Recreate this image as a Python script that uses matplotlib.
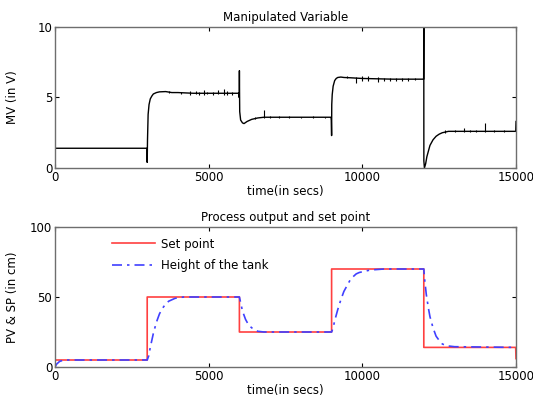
import matplotlib
matplotlib.use("Agg")
import matplotlib.pyplot as plt

plt.rcParams['font.family'] = ['DejaVu Sans']

# Manipulated variable (V): main trace
mv_t = [0, 2995, 3000, 3010, 3030, 3060, 3100, 3150, 3200, 3300, 3400, 3600, 3800, 4000,
        4500, 5990, 5995,
        6000, 6005, 6010, 6040, 6100, 6150, 6250, 6400, 6600, 6800, 7000, 7500,
        8000, 8500, 8980, 8990, 9000, 9005, 9020, 9050, 9100, 9150, 9200, 9300,
        9400, 9600, 10000, 11000, 11980, 11995, 12000,
        12002, 12020, 12060, 12100, 12150, 12200, 12300, 12400, 12500, 12600, 12800, 13000,
        13500, 14990, 15000]
mv_v = [1.4, 1.4, 0.4, 2.0, 3.8, 4.5, 4.9, 5.1, 5.25, 5.35, 5.4, 5.42, 5.35, 5.35,
        5.3, 5.3, 5.0,
        6.9, 5.3, 4.0, 3.4, 3.2, 3.15, 3.3, 3.45, 3.55, 3.6, 3.6, 3.6,
        3.6, 3.6, 3.6, 3.4, 2.3, 4.5, 5.2, 5.8, 6.2, 6.35, 6.42, 6.45,
        6.42, 6.4, 6.35, 6.3, 6.3, 6.3, 10.0,
        0.5, 0.0, 0.3, 0.8, 1.2, 1.6, 2.0, 2.25, 2.4, 2.5, 2.6, 2.6,
        2.6, 2.6, 3.3]

# Manipulated variable: small noise spikes (time, low, high)
spk_t = [3700, 4100, 4400, 4600, 4700, 4850, 4950, 5150, 5300, 5500, 5600, 5750,
         6500, 6800, 7000, 7300, 7600, 8000, 8400, 8800,
         9500, 9800, 10000, 10200, 10500, 10700, 10900, 11100, 11300, 11500, 11700,
         12700, 13000, 13300, 13500, 13700, 14000, 14300, 14600]
spk_lo = [5.3, 5.25, 5.2, 5.25, 5.15, 5.2, 5.25, 5.2, 5.25, 5.2, 5.2, 5.2,
          3.5, 3.55, 3.55, 3.55, 3.55, 3.55, 3.55, 3.55,
          6.35, 6.0, 6.2, 6.2, 6.1, 6.2, 6.2, 6.2, 6.2, 6.2, 6.25,
          2.5, 2.55, 2.55, 2.55, 2.55, 2.55, 2.55, 2.55]
spk_hi = [5.45, 5.4, 5.45, 5.45, 5.4, 5.55, 5.4, 5.4, 5.5, 5.6, 5.45, 5.4,
          3.65, 4.1, 3.7, 3.7, 3.7, 3.65, 3.7, 3.65,
          6.5, 6.45, 6.5, 6.5, 6.45, 6.4, 6.4, 6.4, 6.4, 6.4, 6.4,
          2.7, 2.7, 2.85, 2.7, 2.7, 3.2, 2.7, 2.7]

# Set point (cm)
sp_t = [0, 3000, 3000, 6000, 6000, 9000, 9000, 12000, 12000, 14990, 15000]
sp_v = [5, 5, 50, 50, 25, 25, 70, 70, 14, 14, 6]

# Height of the tank (cm)
pv_t = [0, 50, 150, 300, 3000, 3050, 3100, 3200, 3300, 3400, 3500, 3600, 3700, 3800,
        3900, 4000, 4200, 4500, 6000, 6050, 6100, 6200, 6300, 6400, 6500, 6600, 6800,
        7000, 9000, 9050, 9100, 9200, 9300, 9400, 9500, 9600, 9700, 9800, 9900, 10000,
        10200, 10400, 10700, 11000, 12000, 12030, 12080, 12150, 12200, 12300, 12400,
        12500, 12600, 12700, 12800, 13000, 15000]
pv_v = [0, 2, 4, 5, 5, 8, 14, 24, 32, 38, 42, 45, 47, 48,
        49, 49.5, 50, 50, 50, 45, 40, 34, 30, 28, 26.5, 25.5, 25,
        25, 25, 28, 33, 41, 48, 54, 58, 62, 64.5, 66.5, 67.5, 68,
        69, 69.5, 70, 70, 70, 62, 52, 42, 36, 28, 22, 19, 16.5, 15.5, 15, 14.5, 14]

fig = plt.figure(figsize=(5.33, 4.04), dpi=100)
ax1 = fig.add_axes([55/533, 1 - 168/404, 461/533, 141/404])
ax2 = fig.add_axes([55/533, 1 - 367/404, 461/533, 140/404])

fs = 8.5
edge = '#6e6e6e'

ax1.plot(mv_t, mv_v, color='black', lw=1.0)
ax1.vlines(spk_t, spk_lo, spk_hi, color='black', lw=0.8)
ax1.set_xlim(0, 15000)
ax1.set_ylim(0, 10)
ax1.set_xticks([0, 5000, 10000, 15000])
ax1.set_yticks([0, 5, 10])
ax1.set_title('Manipulated Variable', fontsize=fs, pad=4)
ax1.set_xlabel('time(in secs)', fontsize=fs, labelpad=1)
ax1.set_ylabel('MV (in V)', fontsize=fs)

ax2.plot(sp_t, sp_v, color='#ff4040', lw=1.2, label='Set point')
ax2.plot(pv_t, pv_v, color='#4040ff', lw=1.2, dashes=[6, 3, 1.5, 3], label='Height of the tank')
ax2.set_xlim(0, 15000)
ax2.set_ylim(0, 100)
ax2.set_xticks([0, 5000, 10000, 15000])
ax2.set_yticks([0, 50, 100])
ax2.set_title('Process output and set point', fontsize=fs, pad=4)
ax2.set_xlabel('time(in secs)', fontsize=fs, labelpad=1)
ax2.set_ylabel('PV & SP (in cm)', fontsize=fs)
ax2.legend(loc='upper left', bbox_to_anchor=(0.1, 1.0), frameon=False, fontsize=fs,
           handlelength=3.7, handletextpad=0.45, labelspacing=0.72)

for ax in (ax1, ax2):
    ax.yaxis.set_label_coords(-0.078, 0.5)
    for s in ax.spines.values():
        s.set_color(edge)
        s.set_linewidth(1.0)
    ax.tick_params(direction='in', top=True, right=True, length=3, width=0.8,
                   labelsize=fs, pad=2, color='black')

fig.savefig('out.png', dpi=100)
